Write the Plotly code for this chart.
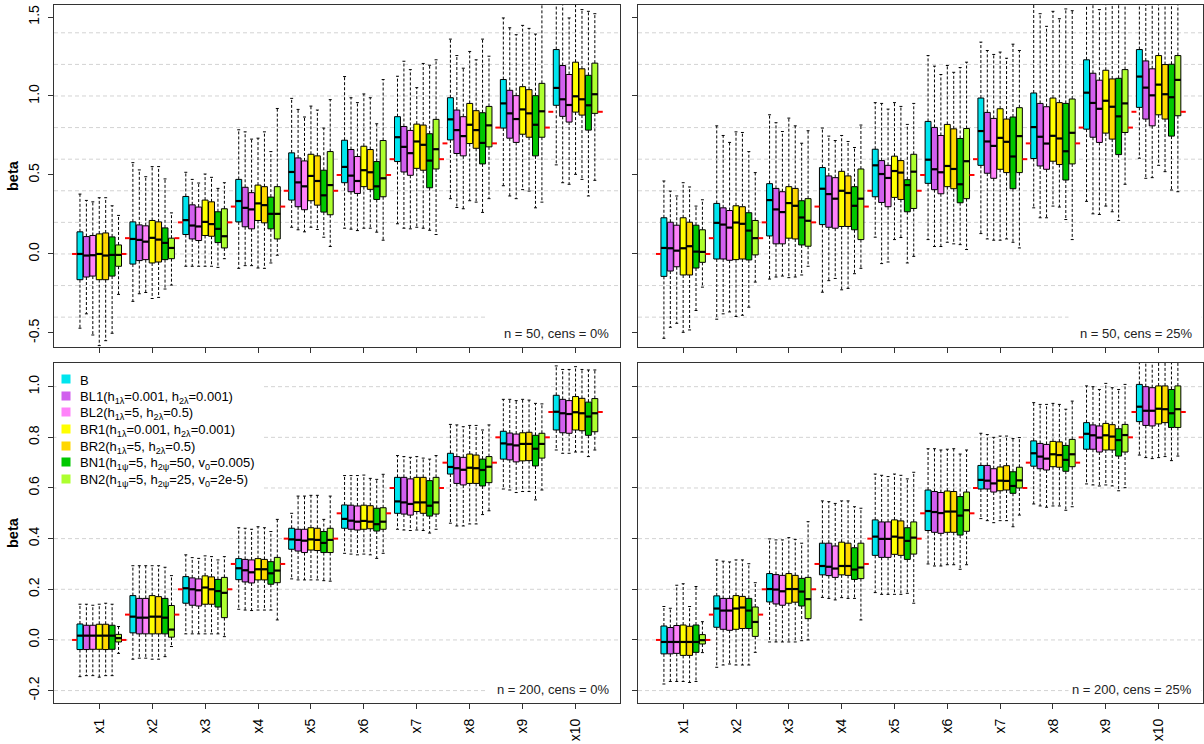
import plotly.graph_objects as go

# ---------------- data ----------------
categories = ["x1", "x2", "x3", "x4", "x5", "x6", "x7", "x8", "x9", "x10"]
cat_pos = [1, 2, 3, 4, 5, 6, 7, 8, 9, 10]
true_beta = [0.0, 0.1, 0.2, 0.3, 0.4, 0.5, 0.6, 0.7, 0.8, 0.9]
methods = ["B", "BL1", "BL2", "BR1", "BR2", "BN1", "BN2"]
method_labels = [
    "B",
    "BL1(h<sub>1λ</sub>=0.001, h<sub>2λ</sub>=0.001)",
    "BL2(h<sub>1λ</sub>=5, h<sub>2λ</sub>=0.5)",
    "BR1(h<sub>1λ</sub>=0.001, h<sub>2λ</sub>=0.001)",
    "BR2(h<sub>1λ</sub>=5, h<sub>2λ</sub>=0.5)",
    "BN1(h<sub>1ψ</sub>=5, h<sub>2ψ</sub>=50, v<sub>0</sub>=0.005)",
    "BN2(h<sub>1ψ</sub>=5, h<sub>2ψ</sub>=25, v<sub>0</sub>=2e-5)",
]
colors = ["#00E5EE", "#D15FEE", "#FF83FA", "#FFFF00", "#FFD700", "#00C800", "#ADFF2F"]
panel_titles = ["n = 50, cens = 0%", "n = 50, cens = 25%", "n = 200, cens = 0%", "n = 200, cens = 25%"]

top_ticks = [-0.5, 0.0, 0.5, 1.0, 1.5]
top_ticktext = ["-0.5", "0.0", "0.5", "1.0", "1.5"]
top_grid = [-0.4, -0.2, 0.0, 0.2, 0.4, 0.6, 0.8, 1.0, 1.2, 1.4]
bot_ticks = [-0.2, 0.0, 0.2, 0.4, 0.6, 0.8, 1.0]
bot_ticktext = ["-0.2", "0.0", "0.2", "0.4", "0.6", "0.8", "1.0"]
bot_grid = [-0.2, 0.0, 0.2, 0.4, 0.6, 0.8, 1.0]

# Panel 1: n = 50, cens = 0%   (rows: B, BL1, BL2, BR1, BR2, BN1, BN2; columns x1..x10)
P1_LOW = [
    [-0.47, -0.30, -0.078, -0.091, 0.169, 0.163, 0.191, 0.35, 0.432, 0.564],
    [-0.379, -0.252, -0.078, -0.074, 0.153, 0.157, 0.163, 0.294, 0.367, 0.451],
    [-0.513, -0.244, -0.078, -0.074, 0.14, 0.148, 0.159, 0.286, 0.35, 0.441],
    [-0.58, -0.282, -0.078, -0.089, 0.169, 0.163, 0.169, 0.337, 0.407, 0.504],
    [-0.549, -0.275, -0.078, -0.091, 0.155, 0.163, 0.163, 0.328, 0.398, 0.472],
    [-0.502, -0.222, -0.085, -0.057, 0.106, 0.138, 0.15, 0.263, 0.292, 0.367],
    [-0.256, -0.197, -0.03, -0.008, 0.047, 0.087, 0.123, 0.35, 0.328, 0.466],
]
P1_Q1 = [
    [-0.163, -0.064, 0.123, 0.203, 0.341, 0.451, 0.585, 0.722, 0.797, 0.941],
    [-0.146, -0.042, 0.095, 0.172, 0.299, 0.394, 0.519, 0.636, 0.733, 0.871],
    [-0.14, -0.036, 0.085, 0.159, 0.28, 0.383, 0.498, 0.621, 0.706, 0.835],
    [-0.163, -0.057, 0.117, 0.212, 0.337, 0.426, 0.542, 0.699, 0.758, 0.898],
    [-0.163, -0.051, 0.112, 0.197, 0.309, 0.409, 0.53, 0.669, 0.739, 0.879],
    [-0.14, -0.036, 0.072, 0.159, 0.265, 0.345, 0.419, 0.57, 0.621, 0.784],
    [-0.078, -0.03, 0.038, 0.095, 0.248, 0.362, 0.538, 0.678, 0.739, 0.89],
]
P1_MED = [
    [0.0, 0.095, 0.214, 0.335, 0.519, 0.551, 0.739, 0.852, 0.953, 1.051],
    [-0.01, 0.089, 0.18, 0.292, 0.453, 0.496, 0.678, 0.784, 0.89, 0.979],
    [-0.008, 0.078, 0.174, 0.282, 0.428, 0.462, 0.638, 0.746, 0.854, 0.943],
    [0.0, 0.102, 0.203, 0.32, 0.494, 0.53, 0.712, 0.818, 0.915, 0.998],
    [-0.01, 0.091, 0.189, 0.309, 0.462, 0.517, 0.691, 0.784, 0.89, 0.979],
    [-0.006, 0.07, 0.159, 0.254, 0.371, 0.428, 0.591, 0.703, 0.818, 0.941],
    [-0.006, 0.038, 0.112, 0.254, 0.436, 0.479, 0.663, 0.814, 0.903, 1.011],
]
P1_Q3 = [
    [0.14, 0.203, 0.364, 0.472, 0.64, 0.72, 0.869, 0.989, 1.104, 1.294],
    [0.11, 0.184, 0.311, 0.422, 0.608, 0.661, 0.807, 0.911, 1.036, 1.193],
    [0.117, 0.178, 0.297, 0.388, 0.589, 0.617, 0.782, 0.869, 1.002, 1.136],
    [0.127, 0.212, 0.341, 0.436, 0.631, 0.682, 0.822, 0.953, 1.059, 1.214],
    [0.133, 0.203, 0.33, 0.426, 0.621, 0.661, 0.816, 0.907, 1.04, 1.172],
    [0.108, 0.165, 0.267, 0.36, 0.53, 0.585, 0.761, 0.894, 1.002, 1.131],
    [0.057, 0.10, 0.286, 0.426, 0.648, 0.718, 0.852, 0.934, 1.08, 1.208],
]
P1_HIGH = [
    [0.379, 0.578, 0.517, 0.786, 0.985, 1.123, 1.125, 1.36, 1.494, 1.68],
    [0.339, 0.532, 0.472, 0.773, 0.915, 0.989, 1.22, 1.256, 1.432, 1.65],
    [0.33, 0.489, 0.449, 0.727, 0.867, 0.958, 1.167, 1.176, 1.388, 1.494],
    [0.356, 0.553, 0.506, 0.733, 0.936, 1.013, 1.053, 1.282, 1.447, 1.66],
    [0.356, 0.553, 0.485, 0.773, 0.911, 0.989, 1.206, 1.229, 1.428, 1.547],
    [0.305, 0.475, 0.415, 0.648, 0.797, 0.824, 1.195, 1.36, 1.392, 1.536],
    [0.244, 0.26, 0.451, 0.921, 0.977, 1.104, 1.229, 1.252, 1.6, 1.521],
]

# Panel 2: n = 50, cens = 25%
P2_LOW = [
    [-0.534, -0.413, -0.159, -0.242, 0.106, 0.091, 0.129, 0.292, 0.333, 0.606],
    [-0.464, -0.379, -0.146, -0.169, -0.061, 0.047, 0.095, 0.229, 0.254, 0.479],
    [-0.439, -0.367, -0.14, -0.155, -0.051, 0.047, 0.087, 0.229, 0.25, 0.483],
    [-0.496, -0.396, -0.15, -0.227, 0.091, 0.074, 0.087, 0.303, 0.303, 0.561],
    [-0.481, -0.388, -0.146, -0.218, 0.104, 0.064, 0.095, 0.297, 0.267, 0.521],
    [-0.358, -0.337, -0.133, -0.125, -0.057, 0.059, 0.074, 0.218, 0.212, 0.405],
    [-0.21, -0.178, -0.078, -0.091, -0.015, 0.028, 0.038, 0.091, 0.441, 0.394],
]
P2_Q1 = [
    [-0.142, -0.032, 0.114, 0.186, 0.362, 0.447, 0.561, 0.604, 0.79, 0.928],
    [-0.108, -0.032, 0.064, 0.169, 0.326, 0.407, 0.511, 0.557, 0.739, 0.854],
    [-0.081, -0.04, 0.064, 0.163, 0.299, 0.381, 0.479, 0.536, 0.706, 0.811],
    [-0.133, -0.036, 0.10, 0.174, 0.358, 0.426, 0.536, 0.587, 0.765, 0.881],
    [-0.133, -0.032, 0.095, 0.174, 0.345, 0.413, 0.515, 0.566, 0.727, 0.854],
    [-0.089, -0.038, 0.057, 0.153, 0.267, 0.324, 0.413, 0.468, 0.629, 0.746],
    [-0.053, -0.006, 0.049, 0.091, 0.288, 0.35, 0.515, 0.57, 0.769, 0.875],
]
P2_MED = [
    [0.038, 0.197, 0.341, 0.413, 0.561, 0.597, 0.778, 0.803, 1.021, 1.123],
    [0.036, 0.186, 0.282, 0.379, 0.506, 0.536, 0.712, 0.742, 0.956, 1.053],
    [0.021, 0.167, 0.265, 0.35, 0.481, 0.517, 0.684, 0.699, 0.919, 1.004],
    [0.036, 0.199, 0.322, 0.40, 0.525, 0.557, 0.735, 0.748, 0.97, 1.072],
    [0.049, 0.191, 0.305, 0.386, 0.515, 0.538, 0.71, 0.731, 0.932, 1.011],
    [0.015, 0.148, 0.231, 0.305, 0.436, 0.441, 0.617, 0.65, 0.871, 0.992],
    [0.013, 0.10, 0.21, 0.35, 0.521, 0.587, 0.746, 0.767, 0.953, 1.102],
]
P2_Q3 = [
    [0.229, 0.32, 0.445, 0.547, 0.663, 0.839, 0.987, 1.019, 1.229, 1.294],
    [0.201, 0.292, 0.415, 0.494, 0.591, 0.801, 0.896, 0.953, 1.144, 1.222],
    [0.182, 0.275, 0.394, 0.483, 0.561, 0.75, 0.858, 0.932, 1.10, 1.172],
    [0.229, 0.305, 0.426, 0.523, 0.619, 0.82, 0.919, 0.987, 1.163, 1.256],
    [0.201, 0.299, 0.415, 0.494, 0.591, 0.792, 0.854, 0.958, 1.108, 1.199],
    [0.182, 0.261, 0.337, 0.426, 0.47, 0.731, 0.867, 0.953, 1.112, 1.201],
    [0.153, 0.212, 0.35, 0.538, 0.631, 0.794, 0.926, 0.981, 1.167, 1.256],
]
P2_HIGH = [
    [0.462, 0.811, 0.881, 0.797, 0.958, 1.256, 1.341, 1.62, 1.65, 1.70],
    [0.398, 0.75, 0.831, 0.746, 0.953, 1.189, 1.288, 1.521, 1.65, 1.70],
    [0.367, 0.706, 0.775, 0.718, 0.917, 1.136, 1.263, 1.441, 1.547, 1.70],
    [0.451, 0.773, 0.86, 0.75, 0.958, 1.193, 1.278, 1.536, 1.65, 1.70],
    [0.424, 0.769, 0.811, 0.712, 0.934, 1.15, 1.239, 1.489, 1.65, 1.70],
    [0.303, 0.648, 0.701, 0.674, 0.82, 1.18, 1.328, 1.551, 1.65, 1.70],
    [0.343, 0.515, 0.78, 0.816, 0.953, 1.214, 1.288, 1.54, 1.65, 1.70],
]

# Panel 3: n = 200, cens = 0%
P3_LOW = [
    [-0.145, -0.076, 0.024, 0.121, 0.241, 0.342, 0.437, 0.461, 0.596, 0.75],
    [-0.141, -0.072, 0.024, 0.118, 0.237, 0.339, 0.434, 0.45, 0.592, 0.737],
    [-0.141, -0.072, 0.024, 0.116, 0.237, 0.336, 0.432, 0.45, 0.582, 0.737],
    [-0.147, -0.076, 0.024, 0.118, 0.237, 0.339, 0.434, 0.458, 0.586, 0.742],
    [-0.141, -0.076, 0.024, 0.118, 0.237, 0.336, 0.432, 0.458, 0.586, 0.742],
    [-0.141, -0.066, 0.024, 0.118, 0.234, 0.322, 0.422, 0.495, 0.553, 0.724],
    [-0.053, -0.026, 0.013, 0.079, 0.232, 0.342, 0.437, 0.51, 0.592, 0.75],
]
P3_Q1 = [
    [-0.038, 0.028, 0.145, 0.238, 0.358, 0.441, 0.50, 0.655, 0.714, 0.829],
    [-0.038, 0.024, 0.137, 0.229, 0.351, 0.437, 0.497, 0.618, 0.711, 0.818],
    [-0.037, 0.024, 0.134, 0.225, 0.345, 0.434, 0.493, 0.612, 0.703, 0.816],
    [-0.037, 0.024, 0.141, 0.237, 0.355, 0.437, 0.507, 0.618, 0.707, 0.829],
    [-0.038, 0.024, 0.141, 0.237, 0.353, 0.439, 0.50, 0.618, 0.708, 0.826],
    [-0.037, 0.024, 0.13, 0.22, 0.345, 0.43, 0.489, 0.608, 0.687, 0.808],
    [-0.008, 0.011, 0.088, 0.226, 0.345, 0.437, 0.497, 0.621, 0.718, 0.822],
]
P3_MED = [
    [0.017, 0.092, 0.204, 0.283, 0.397, 0.478, 0.547, 0.683, 0.776, 0.901],
    [0.017, 0.088, 0.20, 0.275, 0.395, 0.471, 0.543, 0.678, 0.772, 0.895],
    [0.017, 0.088, 0.196, 0.267, 0.392, 0.467, 0.537, 0.672, 0.768, 0.892],
    [0.017, 0.092, 0.207, 0.279, 0.397, 0.47, 0.543, 0.68, 0.774, 0.899],
    [0.017, 0.092, 0.20, 0.279, 0.395, 0.467, 0.543, 0.678, 0.774, 0.895],
    [0.017, 0.088, 0.193, 0.263, 0.383, 0.457, 0.53, 0.671, 0.755, 0.882],
    [0.007, 0.041, 0.186, 0.274, 0.395, 0.467, 0.543, 0.684, 0.774, 0.895],
]
P3_Q3 = [
    [0.063, 0.175, 0.25, 0.321, 0.441, 0.533, 0.642, 0.737, 0.824, 0.966],
    [0.058, 0.164, 0.245, 0.318, 0.437, 0.532, 0.642, 0.724, 0.817, 0.95],
    [0.058, 0.164, 0.241, 0.316, 0.437, 0.529, 0.636, 0.721, 0.813, 0.945],
    [0.062, 0.175, 0.253, 0.321, 0.443, 0.532, 0.642, 0.734, 0.818, 0.961],
    [0.062, 0.171, 0.249, 0.318, 0.441, 0.53, 0.642, 0.73, 0.82, 0.954],
    [0.058, 0.164, 0.239, 0.309, 0.428, 0.52, 0.629, 0.714, 0.808, 0.939],
    [0.022, 0.136, 0.247, 0.326, 0.441, 0.522, 0.642, 0.724, 0.816, 0.953],
]
P3_HIGH = [
    [0.141, 0.293, 0.336, 0.443, 0.50, 0.649, 0.728, 0.851, 0.95, 1.082],
    [0.141, 0.293, 0.325, 0.441, 0.568, 0.649, 0.724, 0.849, 0.95, 1.068],
    [0.137, 0.293, 0.322, 0.437, 0.568, 0.649, 0.721, 0.842, 0.945, 1.068],
    [0.141, 0.293, 0.332, 0.447, 0.571, 0.651, 0.724, 0.847, 0.95, 1.079],
    [0.145, 0.293, 0.329, 0.443, 0.571, 0.638, 0.718, 0.847, 0.947, 1.068],
    [0.141, 0.287, 0.316, 0.428, 0.476, 0.634, 0.714, 0.829, 0.934, 1.066],
    [0.053, 0.254, 0.329, 0.476, 0.568, 0.654, 0.728, 0.849, 0.932, 1.066],
]

# Panel 4: n = 200, cens = 25%
P4_LOW = [
    [-0.174, -0.108, -0.008, 0.168, 0.187, 0.30, 0.479, 0.537, 0.616, 0.73],
    [-0.164, -0.099, -0.008, 0.164, 0.18, 0.292, 0.471, 0.529, 0.612, 0.72],
    [-0.164, -0.095, -0.008, 0.158, 0.18, 0.292, 0.463, 0.524, 0.608, 0.716],
    [-0.164, -0.099, -0.008, 0.167, 0.18, 0.297, 0.471, 0.529, 0.612, 0.72],
    [-0.168, -0.099, -0.008, 0.164, 0.18, 0.297, 0.471, 0.529, 0.608, 0.724],
    [-0.164, -0.099, -0.003, 0.164, 0.184, 0.279, 0.447, 0.512, 0.589, 0.708],
    [-0.05, -0.049, 0.0, 0.079, 0.145, 0.297, 0.493, 0.526, 0.601, 0.726],
]
P4_Q1 = [
    [-0.055, 0.05, 0.15, 0.257, 0.334, 0.432, 0.596, 0.686, 0.753, 0.862],
    [-0.055, 0.042, 0.142, 0.254, 0.326, 0.425, 0.596, 0.676, 0.753, 0.847],
    [-0.053, 0.038, 0.137, 0.247, 0.326, 0.421, 0.584, 0.671, 0.742, 0.845],
    [-0.061, 0.042, 0.145, 0.257, 0.338, 0.425, 0.589, 0.684, 0.75, 0.853],
    [-0.061, 0.045, 0.149, 0.255, 0.334, 0.425, 0.592, 0.682, 0.75, 0.858],
    [-0.049, 0.045, 0.134, 0.239, 0.318, 0.414, 0.579, 0.666, 0.726, 0.839],
    [-0.016, 0.014, 0.084, 0.242, 0.339, 0.429, 0.60, 0.684, 0.742, 0.839],
]
P4_MED = [
    [-0.008, 0.124, 0.201, 0.292, 0.408, 0.509, 0.632, 0.737, 0.814, 0.921],
    [-0.008, 0.116, 0.199, 0.289, 0.399, 0.505, 0.629, 0.724, 0.808, 0.905],
    [-0.008, 0.116, 0.192, 0.282, 0.399, 0.501, 0.618, 0.716, 0.799, 0.905],
    [-0.008, 0.124, 0.201, 0.292, 0.408, 0.507, 0.629, 0.733, 0.808, 0.913],
    [-0.008, 0.128, 0.201, 0.292, 0.404, 0.507, 0.628, 0.73, 0.803, 0.911],
    [-0.008, 0.116, 0.191, 0.278, 0.391, 0.491, 0.608, 0.711, 0.789, 0.895],
    [-0.001, 0.071, 0.161, 0.286, 0.404, 0.512, 0.63, 0.733, 0.809, 0.911],
]
P4_Q3 = [
    [0.055, 0.174, 0.262, 0.382, 0.474, 0.592, 0.689, 0.786, 0.858, 1.009],
    [0.049, 0.164, 0.258, 0.382, 0.466, 0.586, 0.689, 0.776, 0.849, 1.0],
    [0.057, 0.164, 0.255, 0.371, 0.466, 0.582, 0.676, 0.772, 0.845, 0.996],
    [0.059, 0.175, 0.262, 0.386, 0.474, 0.588, 0.683, 0.784, 0.855, 1.003],
    [0.054, 0.172, 0.255, 0.382, 0.47, 0.586, 0.688, 0.782, 0.85, 1.003],
    [0.059, 0.164, 0.243, 0.364, 0.443, 0.566, 0.664, 0.768, 0.834, 0.989],
    [0.021, 0.13, 0.247, 0.382, 0.466, 0.584, 0.682, 0.792, 0.851, 1.003],
]
P4_HIGH = [
    [0.132, 0.316, 0.399, 0.549, 0.655, 0.755, 0.816, 0.937, 1.003, 1.12],
    [0.125, 0.311, 0.395, 0.546, 0.65, 0.755, 0.811, 0.93, 1.0, 1.12],
    [0.216, 0.308, 0.395, 0.539, 0.645, 0.75, 0.80, 0.93, 0.989, 1.12],
    [0.222, 0.316, 0.404, 0.549, 0.655, 0.753, 0.805, 0.934, 1.013, 1.12],
    [0.132, 0.316, 0.397, 0.549, 0.65, 0.755, 0.805, 0.93, 0.996, 1.12],
    [0.211, 0.301, 0.382, 0.526, 0.636, 0.734, 0.795, 0.911, 0.989, 1.12],
    [0.072, 0.226, 0.467, 0.52, 0.662, 0.75, 0.799, 0.943, 1.009, 1.12],
]

panels = [
    (P1_LOW, P1_Q1, P1_MED, P1_Q3, P1_HIGH),
    (P2_LOW, P2_Q1, P2_MED, P2_Q3, P2_HIGH),
    (P3_LOW, P3_Q1, P3_MED, P3_Q3, P3_HIGH),
    (P4_LOW, P4_Q1, P4_MED, P4_Q3, P4_HIGH),
]

# ---------------- styling / geometry ----------------
W, H = 1204, 744
FONT = "Liberation Sans, Arial, Helvetica, sans-serif"
AXIS_COL = "#333333"
BOX_STEP = 0.1215
BOX_W = 0.112
CAP = 0.028
TRUE_HALF = 0.514
GROUP_HALF = 3 * BOX_STEP + BOX_W / 2
XRANGE = [0.145, 10.84]
TOP_YRANGE = [-0.589, 1.576]
BOT_YRANGE = [-0.249, 1.0935]

left_dom = [54 / W, 620 / W]
right_dom = [638 / W, 1203 / W]
top_dom = [(H - 347) / H, (H - 5) / H]
bot_dom = [(H - 703) / H, (H - 363) / H]

axes = [("x", "y"), ("x2", "y2"), ("x3", "y3"), ("x4", "y4")]

fig = go.Figure()
shapes = []
bg_annotations = []
annotations = []

for p, (lo, q1, med, q3, hi) in enumerate(panels):
    xa, ya = axes[p]

    # true values (red), visible on both sides of each group of boxes
    rx, ry = [], []
    for c, tv in zip(cat_pos, true_beta):
        rx += [c - TRUE_HALF, c - GROUP_HALF, None, c + GROUP_HALF, c + TRUE_HALF, None]
        ry += [tv, tv, None, tv, tv, None]
    fig.add_trace(go.Scatter(x=rx, y=ry, mode="lines", line=dict(color="red", width=2),
                             hoverinfo="skip", showlegend=False, xaxis=xa, yaxis=ya))

    wx, wy, cx, cy, mx, my = [], [], [], [], [], []
    for k in range(len(methods)):
        pos = [c + (k - 3) * BOX_STEP for c in cat_pos]
        fig.add_trace(go.Box(
            x=pos, q1=q1[k], median=med[k], q3=q3[k],
            lowerfence=q1[k], upperfence=q3[k],
            width=BOX_W, fillcolor=colors[k],
            line=dict(color="black", width=1),
            whiskerwidth=0, boxpoints=False,
            hoverinfo="skip", showlegend=False,
            name=methods[k], xaxis=xa, yaxis=ya,
        ))
        for i, x in enumerate(pos):
            wx += [x, x, None, x, x, None]
            wy += [q3[k][i], hi[k][i], None, q1[k][i], lo[k][i], None]
            cx += [x - CAP, x + CAP, None, x - CAP, x + CAP, None]
            cy += [hi[k][i], hi[k][i], None, lo[k][i], lo[k][i], None]
            mx += [x - BOX_W / 2, x + BOX_W / 2, None]
            my += [med[k][i], med[k][i], None]
    fig.add_trace(go.Scatter(x=wx, y=wy, mode="lines",
                             line=dict(color="black", width=1, dash="3px,2px"),
                             hoverinfo="skip", showlegend=False, xaxis=xa, yaxis=ya))
    fig.add_trace(go.Scatter(x=cx, y=cy, mode="lines",
                             line=dict(color="black", width=1),
                             hoverinfo="skip", showlegend=False, xaxis=xa, yaxis=ya))
    fig.add_trace(go.Scatter(x=mx, y=my, mode="lines",
                             line=dict(color="black", width=2.2),
                             hoverinfo="skip", showlegend=False, xaxis=xa, yaxis=ya))

    # grid lines (dashed light grey)
    grid_vals = top_grid if p < 2 else bot_grid
    for g in grid_vals:
        shapes.append(dict(type="line", xref=f"{xa} domain", yref=ya, x0=0, x1=1, y0=g, y1=g,
                           line=dict(color="#D3D3D3", width=1, dash="4px,3px"), layer="below"))

    # white box behind the panel label (covers grid lines, like the R legend box)
    bg_annotations.append(dict(text=" ", xref=f"{xa} domain", yref=f"{ya} domain",
                               x=1, y=0, xanchor="right", yanchor="bottom", xshift=-1.5, yshift=1.5,
                               width=132, height=44, borderpad=0, bgcolor="white",
                               showarrow=False, font=dict(size=6, color="white")))
    # panel label
    annotations.append(dict(text=panel_titles[p], xref=f"{xa} domain", yref=f"{ya} domain",
                            x=1, y=0, xanchor="right", yanchor="middle", xshift=-9, yshift=14,
                            showarrow=False, font=dict(family=FONT, size=13, color="#222222")))

# legend background in bottom-left panel
bg_annotations.append(dict(text=" ", xref="paper", yref="paper",
                           x=55.5 / W, y=(H - 364.5) / H, xanchor="left", yanchor="top",
                           width=204, height=133, borderpad=0, bgcolor="white",
                           showarrow=False, font=dict(size=6, color="white")))

# y-axis titles
for dom in (top_dom, bot_dom):
    annotations.append(dict(text="<b>beta</b>", xref="paper", yref="paper",
                            x=13 / W, y=(dom[0] + dom[1]) / 2, xanchor="center", yanchor="middle",
                            textangle=-90, showarrow=False,
                            font=dict(family=FONT, size=14.5, color="black")))

# legend entries: coloured squares + labels in the bottom-left panel
for k in range(len(methods)):
    yc_px = 380.6 + 16.6 * k
    sq_px = yc_px - 1.5
    annotations.append(dict(text=" ", xref="paper", yref="paper",
                            x=65.7 / W, y=(H - sq_px) / H, xanchor="center", yanchor="middle",
                            width=8, height=8, borderpad=0, bgcolor=colors[k],
                            showarrow=False, font=dict(family=FONT, size=6, color=colors[k])))
    annotations.append(dict(text=method_labels[k], xref="paper", yref="paper",
                            x=77.5 / W, y=(H - yc_px) / H, xanchor="left", yanchor="middle",
                            showarrow=False, font=dict(family=FONT, size=13, color="black")))


def xaxis_cfg(domain, anchor, labels):
    return dict(domain=domain, anchor=anchor, range=XRANGE, tickmode="array",
                tickvals=cat_pos, ticktext=categories, showticklabels=labels,
                tickangle=-90, ticks="outside", ticklen=5, tickwidth=1, tickcolor=AXIS_COL,
                showline=True, mirror=True, linecolor=AXIS_COL, linewidth=1,
                showgrid=False, zeroline=False, ticklabelstandoff=4,
                tickfont=dict(family=FONT, size=14, color="black"))


def yaxis_cfg(domain, anchor, rng, tv, tt, labels):
    return dict(domain=domain, anchor=anchor, range=rng, tickmode="array",
                tickvals=tv, ticktext=tt, showticklabels=labels,
                tickangle=-90, ticks="outside", ticklen=5, tickwidth=1, tickcolor=AXIS_COL,
                showline=True, mirror=True, linecolor=AXIS_COL, linewidth=1,
                showgrid=False, zeroline=False, ticklabelstandoff=3,
                tickfont=dict(family=FONT, size=14, color="black"))


fig.update_layout(
    width=W, height=H,
    margin=dict(l=0, r=0, t=0, b=0),
    paper_bgcolor="white", plot_bgcolor="white",
    boxmode="overlay", showlegend=False,
    font=dict(family=FONT, size=13, color="black"),
    xaxis=xaxis_cfg(left_dom, "y", False),
    xaxis2=xaxis_cfg(right_dom, "y2", False),
    xaxis3=xaxis_cfg(left_dom, "y3", True),
    xaxis4=xaxis_cfg(right_dom, "y4", True),
    yaxis=yaxis_cfg(top_dom, "x", TOP_YRANGE, top_ticks, top_ticktext, True),
    yaxis2=yaxis_cfg(top_dom, "x2", TOP_YRANGE, top_ticks, top_ticktext, False),
    yaxis3=yaxis_cfg(bot_dom, "x3", BOT_YRANGE, bot_ticks, bot_ticktext, True),
    yaxis4=yaxis_cfg(bot_dom, "x4", BOT_YRANGE, bot_ticks, bot_ticktext, False),
    shapes=shapes,
    annotations=bg_annotations + annotations,
)

fig.write_html("out.html")
